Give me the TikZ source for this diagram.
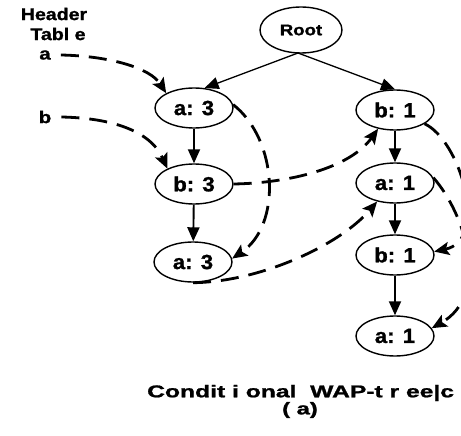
\documentclass[tikz,border=0pt]{standalone}
\usepackage{fontspec}
\setmainfont{Liberation Sans}[BoldFeatures={FakeBold=1.2}]
\usetikzlibrary{shapes.geometric,arrows.meta}
\newcommand\wtxt[2]{\scalebox{#1}[1]{#2}}
\begin{document}
\begin{tikzpicture}[x=1pt,y=-1pt,
  tnode/.style={ellipse, draw, line width=1.4pt, minimum width=78pt, minimum height=40pt, inner sep=0pt,
    font=\fontsize{20.5}{22}\selectfont\bfseries},
  rootnode/.style={ellipse, draw, line width=1.4pt, minimum width=82pt, minimum height=46pt, inner sep=0pt,
    font=\fontsize{15.5}{17}\selectfont\bfseries},
  lbl/.style={inner sep=0pt, font=\fontsize{17}{18}\selectfont\bfseries},
  tree/.style={line width=1.3pt, -{Triangle[length=14pt,width=12pt]}},
  treev/.style={line width=1.9pt, -{Triangle[length=14pt,width=12pt]}},
  link/.style={line width=2.8pt, dash pattern=on 18pt off 10pt, -{Stealth[length=15pt,width=13pt,inset=3pt]}}
]
\useasboundingbox (0,0) rectangle (461,436);
% nodes
\node[rootnode] (root) at (301,30) {\wtxt{1.2}{Root}};
\node[tnode] (a3) at (194,108) {\wtxt{1.08}{a: 3}};
\node[tnode] (b3) at (194,184) {\wtxt{1.08}{b: 3}};
\node[tnode] (a3b) at (193,262) {\wtxt{1.08}{a: 3}};
\node[tnode] (b1) at (395,110) {\wtxt{1.08}{b: 1}};
\node[tnode] (a1) at (395,183) {\wtxt{1.08}{a: 1}};
\node[tnode] (b1b) at (395,255) {\wtxt{1.08}{b: 1}};
\node[tnode] (a1b) at (395,336) {\wtxt{1.08}{a: 1}};
% header labels
\node[lbl] (hdr) at (54,14) {\wtxt{1.15}{Header}};
\node[lbl] (tbl) at (58,34) {\wtxt{1.15}{Tabl e}};
\node[lbl] (ha) at (45,55) {\wtxt{1.2}{a}};
\node[lbl] (hb) at (45,117) {\wtxt{1.2}{b}};
% caption
\node[lbl, anchor=west] (cap) at (147,393) {\wtxt{1.45}{Condit i onal\ \ WAP-t r ee|c}};
\node[lbl] (capa) at (300,410) {\wtxt{1.4}{( a)}};
% tree edges
\coordinate (rb) at (298,53);
\draw[tree] (rb) -- (a3.62);
\draw[tree] (rb) -- (b1.north);
\draw[treev] (a3) -- (b3);
\draw[treev] (b3) -- (a3b);
\draw[treev] (b1) -- (a1);
\draw[treev] (a1) -- (b1b);
\draw[treev] (b1b) -- (a1b);
% node links
\draw[link] (ha.east) ++(10,0) .. controls (110,56) and (150,68) .. (a3.152);
\draw[link] (hb.east) ++(10,0) .. controls (110,118) and (150,130) .. (b3.150);
\draw[link] (a3.5) .. controls (278,140) and (282,225) .. (a3b.5);
\draw[link] (b3.east) .. controls (290,183) and (350,168) .. (b1.228);
\draw[link] (a3b.south) .. controls (260,282) and (340,245) .. (a1.226);
\draw[link] (b1.-25) .. controls (460,140) and (490,240) .. (b1b.5);
\draw[link] (a1.8) .. controls (466,215) and (490,295) .. (a1b.12);
\end{tikzpicture}
\end{document}
